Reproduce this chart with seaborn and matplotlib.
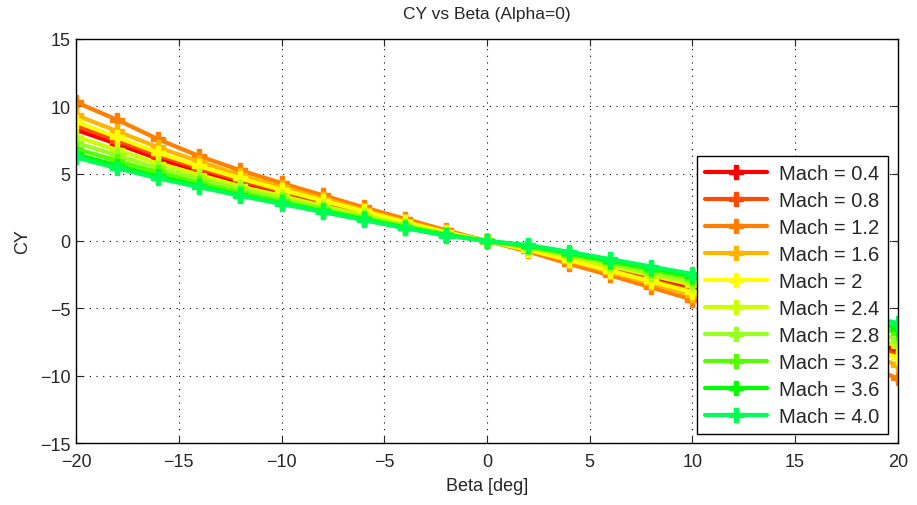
import matplotlib
matplotlib.use("Agg")
import matplotlib.pyplot as plt
import seaborn as sns
import pandas as pd

beta = [-20, -18, -16, -14, -12, -10, -8, -6, -4, -2, 0, 2, 4, 6, 8, 10, 12, 14, 16, 18, 20]
mach_labels = ["Mach = 0.4", "Mach = 0.8", "Mach = 1.2", "Mach = 1.6", "Mach = 2",
               "Mach = 2.4", "Mach = 2.8", "Mach = 3.2", "Mach = 3.6", "Mach = 4.0"]

cy_m04 = [8.25, 7.2, 6.1, 5.2, 4.35, 3.55, 2.8, 2.05, 1.3, 0.6, 0,
          -0.6, -1.3, -2.05, -2.8, -3.55, -4.35, -5.2, -6.1, -7.2, -8.1]
cy_m08 = [8.55, 7.45, 6.35, 5.4, 4.5, 3.7, 2.9, 2.1, 1.35, 0.62, 0,
          -0.62, -1.35, -2.1, -2.9, -3.7, -4.5, -5.4, -6.35, -7.45, -8.45]
cy_m12 = [10.3, 9.0, 7.55, 6.3, 5.25, 4.3, 3.4, 2.5, 1.65, 0.8, 0,
          -0.78, -1.7, -2.55, -3.45, -4.35, -5.25, -6.3, -7.55, -9.0, -10.2]
cy_m16 = [9.35, 8.15, 6.95, 5.9, 4.9, 4.0, 3.15, 2.3, 1.45, 0.67, 0,
          -0.67, -1.45, -2.3, -3.15, -4.0, -4.9, -5.9, -6.95, -8.15, -9.2]
cy_m20 = [8.85, 7.7, 6.55, 5.55, 4.65, 3.8, 3.0, 2.2, 1.4, 0.64, 0,
          -0.64, -1.4, -2.2, -3.0, -3.8, -4.65, -5.55, -6.55, -7.7, -8.65]
cy_m24 = [7.75, 6.75, 5.75, 4.9, 4.05, 3.35, 2.6, 1.9, 1.2, 0.55, 0,
          -0.5, -1.15, -1.85, -2.55, -3.25, -4.0, -4.85, -5.7, -6.7, -7.8]
cy_m28 = [7.3, 6.35, 5.4, 4.6, 3.85, 3.15, 2.45, 1.8, 1.15, 0.52, 0,
          -0.45, -1.05, -1.7, -2.35, -3.0, -3.75, -4.5, -5.35, -6.3, -7.35]
cy_m32 = [6.85, 5.95, 5.1, 4.3, 3.6, 2.95, 2.3, 1.7, 1.07, 0.48, 0,
          -0.4, -0.95, -1.55, -2.15, -2.75, -3.5, -4.2, -5.0, -5.9, -6.85]
cy_m36 = [6.45, 5.6, 4.8, 4.1, 3.4, 2.8, 2.2, 1.6, 1.0, 0.45, 0,
          -0.35, -0.88, -1.45, -2.0, -2.6, -3.3, -4.0, -4.75, -5.6, -6.5]
cy_m40 = [6.2, 5.4, 4.65, 4.0, 3.35, 2.75, 2.15, 1.55, 0.95, 0.4, 0,
          -0.3, -0.8, -1.35, -1.9, -2.45, -3.2, -3.9, -4.6, -5.4, -6.1]

series = [cy_m04, cy_m08, cy_m12, cy_m16, cy_m20, cy_m24, cy_m28, cy_m32, cy_m36, cy_m40]
colors = ["#ff0000", "#ff4a00", "#ff8000", "#ffb400", "#ffff00",
          "#ccff00", "#99ff22", "#55ff00", "#00ff00", "#00ff55"]

rows = []
for lab, vals in zip(mach_labels, series):
    for b, v in zip(beta, vals):
        rows.append({"Beta": b, "CY": v, "Mach": lab})
df = pd.DataFrame(rows)

sns.set_style("ticks")
plt.rcParams["font.family"] = ["Liberation Sans", "DejaVu Sans"]

fig = plt.figure(figsize=(9.17, 5.06), dpi=100)
ax = fig.add_axes([0.083, 0.1225, 0.896, 0.7985])

sns.lineplot(data=df, x="Beta", y="CY", hue="Mach", hue_order=mach_labels,
             palette=dict(zip(mach_labels, colors)), marker="P", markersize=10,
             linewidth=3.0, ax=ax, legend=True)
for ln in ax.lines:
    ln.set_markeredgecolor(ln.get_color())
    ln.set_markeredgewidth(1.0)

ax.set_xlim(-20, 20)
ax.set_ylim(-15, 15)
ax.set_xticks(range(-20, 21, 5))
ax.set_yticks(range(-15, 16, 5))
ax.tick_params(direction="in", top=True, right=True, labelsize=13, length=5, width=0.8)
ax.tick_params(axis="x", pad=7)
ax.tick_params(axis="y", pad=4)
for s in ax.spines.values():
    s.set_visible(True)
    s.set_linewidth(1.0)
    s.set_color("black")
ax.grid(True, color="black", linestyle=(0, (1, 5)), linewidth=0.8)
ax.set_axisbelow(True)
ax.set_title("CY vs Beta (Alpha=0)", fontsize=12.5, pad=15)
ax.set_xlabel("Beta [deg]", fontsize=13, labelpad=5)
ax.set_ylabel("CY", fontsize=13, labelpad=6)

leg = ax.legend(loc="lower right", bbox_to_anchor=(0.988, 0.022), borderaxespad=0,
                fontsize=14.5, frameon=True, fancybox=False, handlelength=3.1,
                labelspacing=0.4, borderpad=0.4, handletextpad=0.6)
leg.get_frame().set_edgecolor("black")
leg.get_frame().set_linewidth(1.0)
leg.get_frame().set_alpha(1)
for h in leg.get_lines():
    h.set_linewidth(3.0)

fig.savefig("out.png", dpi=100)
